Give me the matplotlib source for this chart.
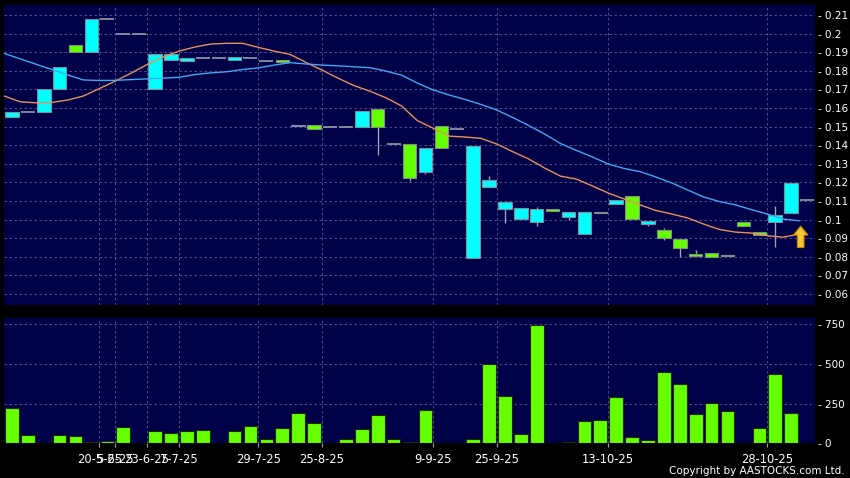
import matplotlib

matplotlib.use("Agg")
import matplotlib.pyplot as plt
import numpy as np
from matplotlib.ticker import FixedLocator, FuncFormatter

# daily candles, index 0..50
opens = [0.155, 0.158, 0.158, 0.170, 0.194, 0.190, 0.208, 0.200, 0.200, 0.170,
         0.186, 0.1855, 0.187, 0.187, 0.186, 0.187, 0.1855, 0.1858, 0.1505, 0.151,
         0.1496, 0.1496, 0.1496, 0.1595, 0.1407, 0.1405, 0.1254, 0.1503, 0.1485, 0.0792,
         0.1174, 0.1057, 0.1002, 0.0989, 0.1055, 0.1012, 0.0922, 0.1041, 0.1082, 0.1127,
         0.0975, 0.0944, 0.0896, 0.0813, 0.0822, 0.081, 0.0985, 0.0933, 0.0985, 0.1034,
         0.1105]
closes = [0.158, 0.158, 0.170, 0.182, 0.190, 0.208, 0.208, 0.200, 0.200, 0.189,
          0.189, 0.187, 0.187, 0.187, 0.1873, 0.187, 0.1855, 0.1845, 0.151, 0.1485,
          0.1496, 0.1496, 0.1584, 0.1496, 0.1407, 0.1222, 0.1383, 0.1383, 0.1485, 0.1398,
          0.1211, 0.1093, 0.106, 0.1055, 0.1046, 0.1043, 0.1043, 0.1037, 0.1105, 0.1002,
          0.0992, 0.0903, 0.0849, 0.0804, 0.080, 0.0804, 0.0965, 0.0918, 0.1025, 0.1195,
          0.1105]
highs = [0.158, 0.158, 0.170, 0.182, 0.194, 0.208, 0.208, 0.200, 0.200, 0.189,
         0.190, 0.187, 0.187, 0.187, 0.1873, 0.187, 0.1855, 0.1858, 0.151, 0.151,
         0.1496, 0.1496, 0.1584, 0.1595, 0.1407, 0.1405, 0.1383, 0.1503, 0.1485, 0.1398,
         0.1234, 0.1093, 0.106, 0.1067, 0.1055, 0.1043, 0.1043, 0.1041, 0.1105, 0.1127,
         0.0992, 0.0955, 0.0896, 0.0836, 0.0822, 0.081, 0.0985, 0.0933, 0.1073, 0.1195,
         0.1105]
lows = [0.155, 0.158, 0.158, 0.170, 0.190, 0.190, 0.208, 0.200, 0.200, 0.170,
        0.186, 0.1855, 0.187, 0.187, 0.186, 0.187, 0.1855, 0.1845, 0.1505, 0.1485,
        0.1496, 0.1496, 0.1496, 0.135, 0.1407, 0.121, 0.1243, 0.1383, 0.1485, 0.0792,
        0.1174, 0.0983, 0.1002, 0.0966, 0.1046, 0.100, 0.0922, 0.1037, 0.1082, 0.1002,
        0.0966, 0.089, 0.080, 0.0804, 0.080, 0.0804, 0.0965, 0.0918, 0.0853, 0.1034,
        0.1105]

# volume ('000 shares)
volume = [225, 50, 0, 55, 48, 10, 15, 103, 2, 78,
          67, 76, 86, 5, 78, 107, 25, 99, 193, 130,
          0, 30, 93, 180, 27, 8, 208, 5, 0, 30,
          500, 300, 60, 745, 5, 10, 140, 150, 295, 40,
          20, 450, 375, 185, 255, 205, 0, 95, 435, 190,
          0]

# moving averages (orange = 10 day, blue = 20 day)
ma_short = [0.1665, 0.1634, 0.1628, 0.1630, 0.1643, 0.1665, 0.1705, 0.1745, 0.1788, 0.1834,
            0.1874, 0.1906, 0.1928, 0.1944, 0.1948, 0.1948, 0.1926, 0.1906, 0.1888, 0.1845,
            0.1804, 0.1761, 0.1721, 0.1691, 0.1656, 0.1611, 0.1532, 0.1491, 0.1449, 0.1444,
            0.1437, 0.1406, 0.1365, 0.1326, 0.1277, 0.1234, 0.1218, 0.1181, 0.1143, 0.1111,
            0.1079, 0.1049, 0.1030, 0.1009, 0.0976, 0.0947, 0.0933, 0.0928, 0.0913, 0.0906,
            0.0922]
ma_long = [0.1894, 0.1865, 0.1836, 0.1807, 0.1778, 0.1751, 0.1748, 0.1749, 0.1753, 0.1757,
           0.1761, 0.1765, 0.1780, 0.1789, 0.1795, 0.1807, 0.1816, 0.1831, 0.1844, 0.1837,
           0.1831, 0.1827, 0.1822, 0.1817, 0.1799, 0.1777, 0.1734, 0.1697, 0.1670, 0.1646,
           0.1619, 0.1589, 0.1549, 0.1506, 0.1460, 0.1409, 0.1372, 0.1337, 0.1299, 0.1275,
           0.1258, 0.1229, 0.1197, 0.1159, 0.1122, 0.1097, 0.1079, 0.1054, 0.1030, 0.1003,
           0.0994]

date_idx = [6, 7, 9, 11, 16, 20, 27, 31, 38, 48]
date_labels = ["20-5-25", "5-6-25", "23-6-25", "7-7-25", "29-7-25", "25-8-25",
               "9-9-25", "25-9-25", "13-10-25", "28-10-25"]
price_ticks = [0.06, 0.07, 0.08, 0.09, 0.10, 0.11, 0.12, 0.13, 0.14, 0.15,
               0.16, 0.17, 0.18, 0.19, 0.20, 0.21]
volume_ticks = [0, 250, 500, 750]

# marker arrow under the last session
arrow_idx = 49.6
arrow_base = 0.0850
arrow_top = 0.0965

BG = "#000048"
UP = "#00ffff"
DOWN = "#66ff00"
FLAT = "#9a9aa8"
GRID = "#5c5c94"

o = np.array(opens)
c = np.array(closes)
h = np.array(highs)
lo = np.array(lows)
x = np.arange(len(o))

fig = plt.figure(figsize=(8.5, 4.78), dpi=100, facecolor="black")
ax = fig.add_axes([4 / 850, 1 - 305 / 478, 811 / 850, 300 / 478])
axv = fig.add_axes([4 / 850, 1 - 443.3 / 478, 811 / 850, 125 / 478])

for a in (ax, axv):
    a.set_facecolor(BG)
    for s in a.spines.values():
        s.set_visible(False)
    a.set_xlim(-0.5, len(o) - 0.5)
    a.set_axisbelow(True)
    a.xaxis.set_major_locator(FixedLocator([i - 0.5 for i in date_idx]))
    a.grid(True, color=GRID, linestyle=(0, (3, 3)), linewidth=0.6)
    a.yaxis.tick_right()
    a.tick_params(axis="y", length=0, pad=2, labelsize=7.5, labelcolor="white")

# candles
ax.vlines(x, lo, h, color="#a0a0b8", linewidth=1, zorder=2)
up = c > o
down = c < o
flat = c == o
ax.bar(x[up], (c - o)[up], bottom=o[up], width=0.85, color=UP,
       edgecolor="#7890a0", linewidth=0.8, zorder=3)
ax.bar(x[down], (o - c)[down], bottom=c[down], width=0.85, color=DOWN,
       edgecolor="#809080", linewidth=0.8, zorder=3)
ax.hlines(c[flat], x[flat] - 0.44, x[flat] + 0.44, color=FLAT, linewidth=1.2, zorder=3)

ma_x = np.arange(len(ma_short)) - 0.5
ax.plot(ma_x, ma_short, color="#e8905a", linewidth=1.0, zorder=4)
ax.plot(ma_x, ma_long, color="#40a8f0", linewidth=1.0, zorder=4)

ax.arrow(arrow_idx, arrow_base, 0, arrow_top - arrow_base, width=0.42,
         head_width=0.92, head_length=0.0048, length_includes_head=True,
         facecolor="#f8c830", edgecolor="#c08010", linewidth=0.8, zorder=5)

ax.set_ylim(0.0541, 0.2154)
ax.yaxis.set_major_locator(FixedLocator(price_ticks))
ax.yaxis.set_major_formatter(FuncFormatter(lambda v, p: f"- {round(v, 2):g}"))
ax.tick_params(axis="x", length=0, labelbottom=False)

# volume
axv.bar(x, volume, width=0.86, color=DOWN, edgecolor="#1c2c10", linewidth=0.8, zorder=3)
axv.set_ylim(0, 788)
axv.yaxis.set_major_locator(FixedLocator(volume_ticks))
axv.yaxis.set_major_formatter(FuncFormatter(lambda v, p: f"- {int(v)}"))
axv.set_xticklabels(date_labels)
axv.tick_params(axis="x", length=3, width=0.8, color="#a0a0a0", pad=4,
                labelsize=8.3, labelcolor="white")

fig.text(845 / 850, 1 - 471.5 / 478, "Copyright by AASTOCKS.com Ltd.", color="white",
         fontsize=7.5, ha="right", va="center")

fig.savefig("out.png", dpi=100, facecolor="black")
